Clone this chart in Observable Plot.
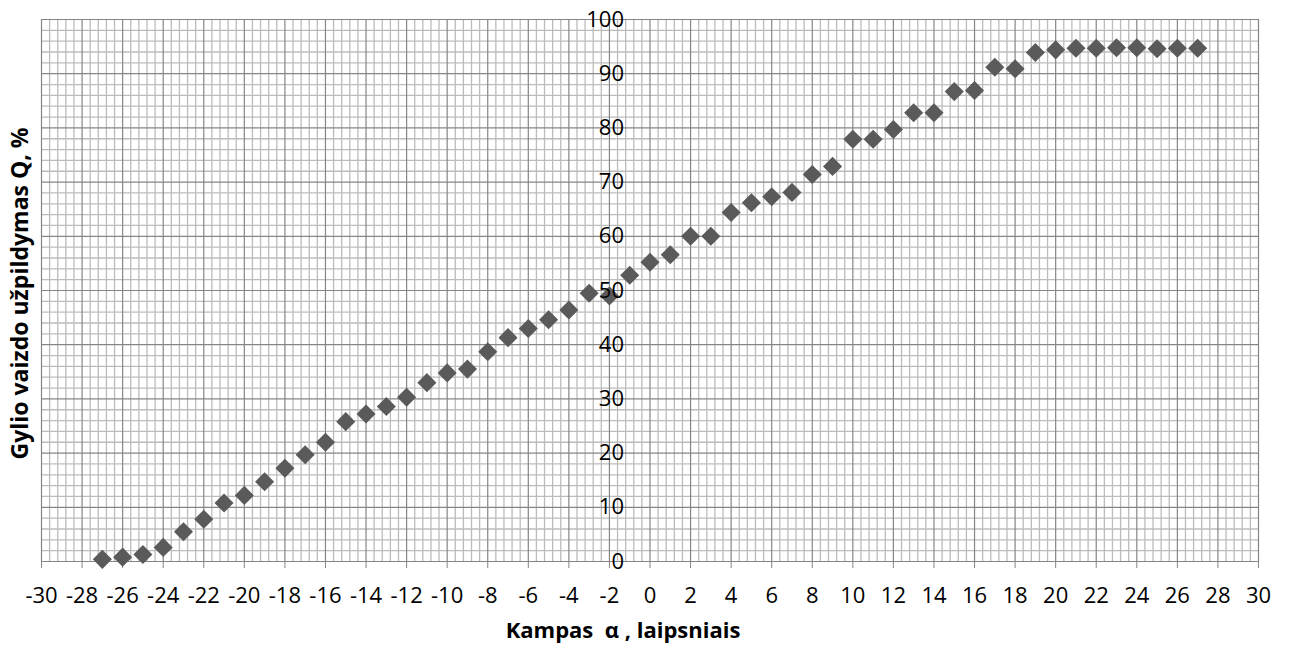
<!DOCTYPE html>
<html>
<head>
<meta charset="utf-8">
<script src="https://cdn.jsdelivr.net/npm/d3@7"></script>
<script src="https://cdn.jsdelivr.net/npm/@observablehq/plot@0.6"></script>
<style>
  html, body { margin: 0; padding: 0; background: #fff; }
  #chart svg { display: block; }
</style>
</head>
<body>
<div id="chart"></div>
<script>
// Angle α (degrees) and depth-image fill Q (%)
const alpha = [-27, -26, -25, -24, -23, -22, -21, -20, -19, -18, -17, -16, -15, -14, -13, -12, -11, -10, -9, -8,
               -7, -6, -5, -4, -3, -2, -1, 0, 1, 2, 3, 4, 5, 6, 7, 8, 9, 10, 11, 12,
               13, 14, 15, 16, 17, 18, 19, 20, 21, 22, 23, 24, 25, 26, 27];
const fillQ = [0.4, 0.8, 1.3, 2.6, 5.5, 7.8, 10.8, 12.2, 14.7, 17.2, 19.7, 22.0, 25.8, 27.2, 28.6, 30.3, 33.0, 34.8, 35.5, 38.7,
               41.3, 43.0, 44.6, 46.4, 49.5, 49.0, 52.8, 55.2, 56.6, 60.0, 60.0, 64.4, 66.2, 67.3, 68.1, 71.4, 72.9, 77.9, 77.9, 79.7,
               82.8, 82.8, 86.7, 86.9, 91.2, 90.9, 93.9, 94.4, 94.7, 94.7, 94.8, 94.8, 94.6, 94.7, 94.7];

// Axis ticks
const xTicks = [-30, -28, -26, -24, -22, -20, -18, -16, -14, -12, -10, -8, -6, -4, -2, 0, 2, 4, 6, 8, 10, 12, 14, 16, 18, 20, 22, 24, 26, 28, 30];
const yTicks = [0, 10, 20, 30, 40, 50, 60, 70, 80, 90, 100];

const xTitle = "Kampas \u00a0α , laipsniais";
const yTitle = "Gylio vaizdo užpildymas Q, %";

const points = alpha.map((a, i) => ({alpha: a, q: fillQ[i]}));

// Minor grid: 0.4° steps horizontally, 2 % steps vertically
const minorX = d3.range(0, 151).map(i => -30 + i * 0.4).filter(v => !xTicks.includes(Math.round(v * 10) / 10));
const minorY = d3.range(0, 51).map(i => i * 2).filter(v => v % 10 !== 0);

const font = "'Open Sans', 'DejaVu Sans', sans-serif";

const chart = Plot.plot({
  width: 1290,
  height: 660,
  marginLeft: 41,
  marginRight: 32,
  marginTop: 19,
  marginBottom: 99,
  style: {fontFamily: font, background: "#fff", color: "#000"},
  x: {domain: [-30, 30]},
  y: {domain: [0, 100]},
  marks: [
    Plot.ruleX(minorX, {stroke: "#bcbcbc", strokeWidth: 1.3}),
    Plot.ruleY(minorY, {stroke: "#bcbcbc", strokeWidth: 1.3}),
    Plot.ruleX(xTicks, {stroke: "#868686", strokeWidth: 1.2}),
    Plot.ruleY(yTicks, {stroke: "#868686", strokeWidth: 1.2}),
    Plot.axisX({
      ticks: xTicks,
      tickSize: 7,
      tickPadding: 19,
      tickFormat: d => String(d),
      fontSize: 22,
      stroke: "#868686",
      fill: "#000",
      label: null
    }),
    Plot.axisY({ticks: [], label: null}),
    Plot.dot(points, {
      x: "alpha",
      y: "q",
      symbol: "diamond2",
      r: 8.6,
      fill: "#5a5a5a",
      stroke: "none"
    }),
    Plot.text(yTicks, {
      x: 0,
      y: d => d,
      text: d => String(d),
      textAnchor: "end",
      dx: -26,
      fontSize: 22,
      fill: "#000"
    }),
    Plot.text([xTitle], {
      frameAnchor: "bottom",
      dx: -27,
      dy: 76,
      fontSize: 22,
      fontWeight: "bold",
      fill: "#000"
    }),
    Plot.text([yTitle], {
      frameAnchor: "left",
      textAnchor: "middle",
      rotate: -90,
      dx: -21,
      dy: 3,
      fontSize: 23,
      fontWeight: "bold",
      fill: "#000"
    })
  ]
});

document.getElementById("chart").appendChild(chart);
</script>
</body>
</html>
